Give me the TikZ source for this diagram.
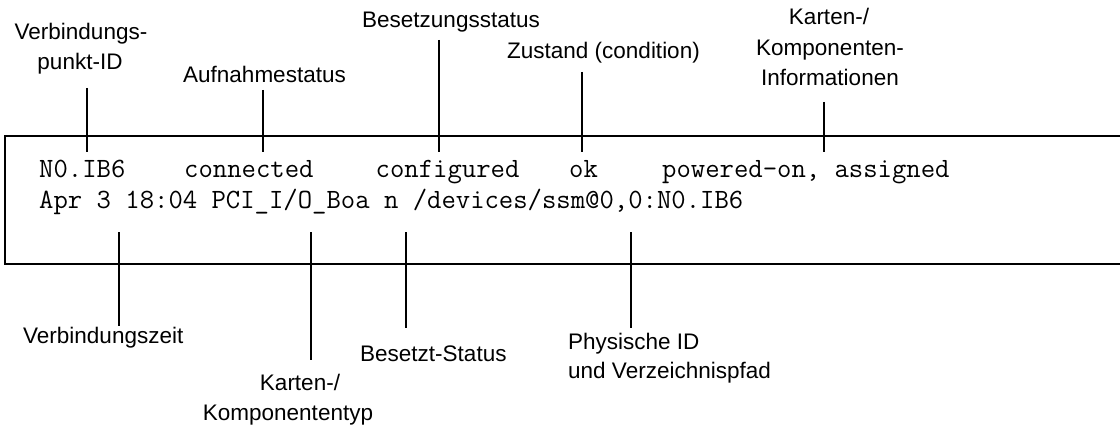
\documentclass[tikz,border=0pt]{standalone}
\usepackage{fontspec}
\setmainfont{Liberation Sans}
\begin{document}
\begin{tikzpicture}[x=1pt,y=-1pt,
  lbl/.style={font=\fontsize{22.5}{27}\selectfont, inner sep=0pt, anchor=base},
  lblw/.style={lbl, anchor=base west},
  code/.style={font=\ttfamily\fontsize{27.9}{30}\selectfont, inner sep=0pt, anchor=base west},
  lead/.style={line width=2pt}]
\useasboundingbox (0,0) rectangle (1120,428);
% frame (open to the right)
\coordinate (fr1) at (1122,136);
\coordinate (fr2) at (5,136);
\coordinate (fr3) at (5,264);
\coordinate (fr4) at (1122,264);
\draw[lead] (fr1) -- (fr2) -- (fr3) -- (fr4);

% code lines
\node[code] (c1) at (39,177) {N0.IB6};
\node[code] (c2) at (184,177) {connected};
\node[code] (c3) at (375.5,177) {configured};
\node[code] (c4) at (569,177) {ok};
\node[code] (c5) at (662,177) {powered-on, assigned};
\node[code] (d1) at (39,208) {Apr 3 18:04 PCI\_I/O\_Boa n /devices/ssm@0,0:N0.IB6};

% top labels
\node[lbl] (vb1) at (81,40) {Verbindungs-};
\node[lbl] (vb2) at (80,70) {punkt-ID};
\node[lblw] (auf) at (183,82) {Aufnahmestatus};
\node[lblw] (bes) at (362,28) {Besetzungsstatus};
\node[lblw] (zus) at (507,59) {Zustand (condition)};
\node[lbl] (kk1) at (829,25) {Karten-/};
\node[lbl] (kk2) at (830,56) {Komponenten-};
\node[lbl] (kk3) at (830,86) {Informationen};

% bottom labels
\node[lblw] (vz) at (23,343) {Verbindungszeit};
\node[lblw] (bs) at (360,361) {Besetzt-Status};
\node[lbl] (kt1) at (300,390) {Karten-/};
\node[lbl] (kt2) at (288,420) {Komponententyp};
\node[lblw] (ph1) at (568,349) {Physische ID};
\node[lblw] (ph2) at (568,378) {und Verzeichnispfad};

% leader end points
\coordinate (a1) at (87,88);   \coordinate (a2) at (87,152);
\coordinate (b1) at (263,90);  \coordinate (b2) at (263,152);
\coordinate (e1) at (439,40);  \coordinate (e2) at (439,152);
\coordinate (f1) at (582,72);  \coordinate (f2) at (582,152);
\coordinate (g1) at (824,102); \coordinate (g2) at (824,152);
\coordinate (h1) at (119,232); \coordinate (h2) at (119,326);
\coordinate (i1) at (311,232); \coordinate (i2) at (311,360);
\coordinate (j1) at (406,232); \coordinate (j2) at (406,328);
\coordinate (k1) at (631,232); \coordinate (k2) at (631,328);

\draw[lead] (a1) -- (a2);
\draw[lead] (b1) -- (b2);
\draw[lead] (e1) -- (e2);
\draw[lead] (f1) -- (f2);
\draw[lead] (g1) -- (g2);
\draw[lead] (h1) -- (h2);
\draw[lead] (i1) -- (i2);
\draw[lead] (j1) -- (j2);
\draw[lead] (k1) -- (k2);
\end{tikzpicture}
\end{document}
